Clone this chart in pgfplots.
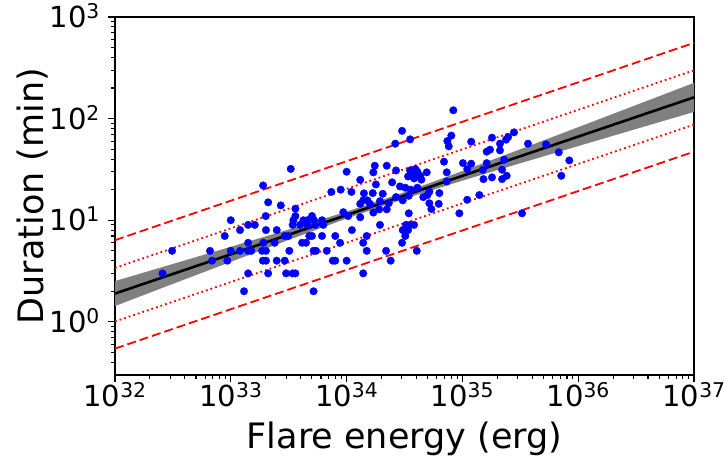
\documentclass[border=0pt]{standalone}
\usepackage{fontspec}
\setmainfont{DejaVu Sans}
\usepackage{pgfplots}
\pgfplotsset{compat=1.18}
\usepackage{pgfplotstable}
\definecolor{mplblue}{RGB}{0,0,255}
\definecolor{mplred}{RGB}{255,0,0}
\definecolor{bandgray}{RGB}{128,128,128}

% flare energy (erg), duration (min)
\pgfplotstableread{
E D
2.57e32 3
3.11e32 5
6.61e32 5
6.88e32 4
8.86e32 7
9.33e32 4
9.98e32 10
9.98e32 5
1.20e33 8
1.20e33 5
1.30e33 2
1.41e33 9
1.61e33 9
1.41e33 6
1.41e33 5
1.50e33 5
1.41e33 3
1.90e33 22
1.86e33 5
2.01e33 5
1.89e33 4
2.01e33 4
1.91e33 6
2.00e33 11
2.01e33 8
2.10e33 15
2.10e33 3
2.39e33 6
2.49e33 8
2.49e33 4
2.70e33 14
2.92e33 7
2.92e33 4
3.00e33 3
3.12e33 7
3.20e33 5
3.29e33 32
3.42e33 3
3.61e33 3
3.61e33 13
3.61e33 11
4.23e33 10
5.02e33 11
3.47e33 10
3.96e33 9
4.58e33 10
5.23e33 10
6.13e33 10
3.42e33 9
4.58e33 9
5.37e33 9
6.29e33 9
4.12e33 6
4.46e33 6
4.76e33 7
5.02e33 7
6.13e33 7
5.18e33 5
5.44e33 5
6.73e33 5
5.18e33 2
7.38e33 19
8.89e33 20
1.00e34 30
1.10e34 19
7.98e33 7
8.77e33 6
7.59e33 4
7.98e33 4
1.00e34 4
9.36e33 12
1.03e34 11
1.11e34 8
1.31e34 25
1.31e34 14.5
1.39e34 15.7
1.51e34 15.7
1.59e34 14.5
1.31e34 10.7
1.41e34 18.4
1.68e34 18.5
1.70e34 29.6
1.75e34 34.4
2.22e34 34.4
1.79e34 22.5
2.05e34 18.2
1.94e34 15.4
2.31e34 14.7
2.22e34 12.8
1.70e34 11.9
1.94e34 9
1.49e34 7
1.39e34 6
1.49e34 5
2.19e34 5
1.39e34 3
2.40e34 4
2.47e34 23.6
2.67e34 30.9
2.63e34 56.7
1.91e34 12.8
3.01e34 75.8
3.53e34 62.5
2.89e34 21.5
3.21e34 20.9
3.58e34 20.0
4.08e34 20.9
2.67e34 16.9
3.05e34 15.7
3.44e34 17.4
3.53e34 30.9
3.92e34 31.9
4.08e34 30.0
3.72e34 28.3
4.31e34 27.4
3.39e34 27.0
3.82e34 25.8
4.42e34 25.1
4.92e34 29.6
4.59e34 16.9
4.98e34 17.7
5.18e34 19.1
5.18e34 14.7
5.39e34 12.9
3.44e34 11.7
3.26e34 9
3.53e34 9
3.82e34 9
3.05e34 8
3.39e34 8
3.21e34 7
3.01e34 6
4.03e34 5
8.34e34 120.8
8.02e34 68.0
7.41e34 60.2
7.62e34 53.4
1.19e35 59.3
6.93e34 37.7
1.01e35 36.5
1.19e35 36.0
1.62e35 36.5
7.32e34 29.6
1.10e35 31.9
1.50e35 31.4
1.52e35 25.4
7.32e34 24.1
6.32e34 18.5
6.24e34 14.5
1.10e35 15.9
1.40e35 17.7
9.40e34 11.7
1.62e35 47.3
1.73e35 49.5
1.80e35 65.0
1.80e35 26.4
2.11e35 56.7
2.11e35 48.7
2.38e35 62.1
2.48e35 65.9
2.79e35 73.3
3.68e35 56.7
5.27e35 55.8
6.79e35 46.6
8.37e35 38.8
2.29e35 39.4
2.20e35 31.4
2.41e35 27.4
2.20e35 25.4
7.14e35 27.4
3.27e35 11.7
}\flares

\begin{document}
\begin{tikzpicture}
\useasboundingbox (-115pt,-83pt) rectangle (609pt,375pt);
\begin{axis}[
    at={(0,0)}, anchor=south west,
    scale only axis,
    width=579pt, height=358pt,
    xmode=log, ymode=log,
    xmin=1e32, xmax=1e37,
    ymin=0.3, ymax=1000,
    xtick={1e32,1e33,1e34,1e35,1e36,1e37},
    xticklabels={10\textsuperscript{32},10\textsuperscript{33},10\textsuperscript{34},10\textsuperscript{35},10\textsuperscript{36},10\textsuperscript{37}},
    minor xtick={2e32,3e32,4e32,5e32,6e32,7e32,8e32,9e32,
                 2e33,3e33,4e33,5e33,6e33,7e33,8e33,9e33,
                 2e34,3e34,4e34,5e34,6e34,7e34,8e34,9e34,
                 2e35,3e35,4e35,5e35,6e35,7e35,8e35,9e35,
                 2e36,3e36,4e36,5e36,6e36,7e36,8e36,9e36},
    ytick={1,10,100,1000},
    yticklabels={10\textsuperscript{0},10\textsuperscript{1},10\textsuperscript{2},10\textsuperscript{3}},
    minor ytick={0.4,0.5,0.6,0.7,0.8,0.9,2,3,4,5,6,7,8,9,20,30,40,50,60,70,80,90,200,300,400,500,600,700,800,900},
    tick align=outside,
    xtick pos=left, ytick pos=left,
    major tick length=7pt, minor tick length=4pt,
    every tick/.style={black, line width=1.1pt},
    axis line style={line width=1.1pt},
    tick label style={font=\fontsize{29}{34}\selectfont},
    xticklabel style={anchor=base, yshift=-25pt, inner sep=0pt},
    yticklabel style={anchor=base east, xshift=-8pt, yshift=-10.5pt, inner sep=0pt},
    label style={font=\fontsize{35}{42}\selectfont},
    xlabel={Flare energy (erg)},
    ylabel={Duration (min)},
    xlabel style={at={(axis description cs:0.5,-0.205)}, anchor=base},
    ylabel style={at={(axis description cs:-0.1244,0.5)}, anchor=base},
]
% confidence band of the fit
\addplot[draw=none, fill=bandgray] coordinates {
    (1e32,2.523) (3.162e32,3.715) (1e33,5.483) (3.162e33,8.110) (1e34,12.16)
    (3.162e34,18.88) (1e35,30.48) (3.162e35,50.0) (1e36,82.4) (3.162e36,136.1) (1e37,224.9)
    (1e37,116.4) (3.162e36,79.1) (1e36,53.7) (3.162e35,36.39) (1e35,24.55)
    (3.162e34,16.29) (1e34,10.40) (3.162e33,6.412) (1e33,3.899) (3.162e32,2.366) (1e32,1.432)
} -- cycle;
% best fit
\addplot[black, line width=2.6pt] coordinates {(1e32,1.90) (1e37,162)};
% 1 sigma
\addplot[mplred, line width=1.8pt, dash pattern=on 1.8pt off 3pt] coordinates {(1e32,3.40) (1e37,299)};
\addplot[mplred, line width=1.8pt, dash pattern=on 1.8pt off 3pt] coordinates {(1e32,1.01) (1e37,87.3)};
% 2 sigma
\addplot[mplred, line width=1.8pt, dash pattern=on 9pt off 4pt] coordinates {(1e32,6.37) (1e37,557)};
\addplot[mplred, line width=1.8pt, dash pattern=on 9pt off 4pt] coordinates {(1e32,0.546) (1e37,47.3)};
% flares
\addplot[only marks, mark=*, mark size=3.8pt,
    mark options={fill=mplblue, draw=mplblue, line width=0.3pt}]
    table[x=E, y=D] {\flares};
\end{axis}
\end{tikzpicture}
\end{document}
